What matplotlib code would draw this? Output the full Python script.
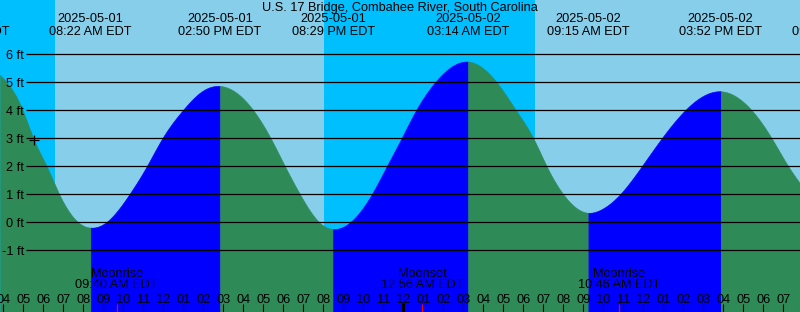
import numpy as np
import pandas as pd
import matplotlib
matplotlib.use("Agg")
import matplotlib.pyplot as plt
from matplotlib.transforms import blended_transform_factory

# ---------------- data ----------------
title = "U.S. 17 Bridge, Combahee River, South Carolina"
base_day = "2025-05-01"
tz_name = "EDT"

# tide height readings: hours after 2025-05-01 00:00, feet
tide_hours = [3.83, 4.165, 4.965, 5.495, 6.165, 6.795, 7.745, 8.367,
              9.13, 10.295, 11.165, 11.945, 12.965, 13.83, 14.833,
              16.495, 17.365, 18.08, 18.83, 19.795, 20.483,
              21.33, 22.415, 23.165, 23.83, 24.63, 25.58, 27.233,
              28.665, 29.63, 30.495, 31.165, 31.995, 33.25,
              33.83, 34.83, 35.915, 36.915, 38.08, 39.867,
              41.415, 42.415, 43.245, 43.83]
tide_feet = [5.26, 5.0, 4.0, 3.0, 2.0, 1.0, 0.0, -0.19,
             0.0, 1.0, 2.0, 3.0, 4.0, 4.63, 4.87,
             4.0, 3.0, 2.0, 1.0, 0.0, -0.24,
             0.0, 1.0, 2.0, 2.9, 4.0, 5.0, 5.74,
             5.0, 4.0, 3.0, 2.0, 1.0, 0.34,
             0.44, 1.0, 2.0, 3.0, 4.0, 4.68,
             4.0, 3.0, 2.0, 1.39]

extreme_times = ["2025-05-01 02:16", "2025-05-01 08:22", "2025-05-01 14:50",
                 "2025-05-01 20:29", "2025-05-02 03:14", "2025-05-02 09:15",
                 "2025-05-02 15:52", "2025-05-02 21:30"]
extreme_kinds = ["High", "Low", "High", "Low", "High", "Low", "High", "Low"]

sunrise_times = ["2025-05-01 06:35", "2025-05-02 06:35"]
sunset_times = ["2025-05-01 20:02", "2025-05-02 20:03"]

moon_times = ["2025-05-01 09:40", "2025-05-02 00:56", "2025-05-02 10:46"]
moon_events = ["Moonrise", "Moonset", "Moonrise"]

mark_hour = 5.545
mark_feet = 2.95

height_levels = [-1, 0, 1, 2, 3, 4, 5, 6]

# ---------------- helpers ----------------
base = pd.Timestamp(base_day)


def to_hours(s):
    return (pd.Timestamp(s) - base).total_seconds() / 3600.0


def smooth_curve(x, y, xn):
    """natural cubic spline through the read points"""
    x = np.asarray(x, float)
    y = np.asarray(y, float)
    n = len(x)
    h = np.diff(x)
    d = np.diff(y) / h
    A = np.zeros((n, n))
    r = np.zeros(n)
    A[0, 0] = 1.0
    A[-1, -1] = 1.0
    for i in range(1, n - 1):
        A[i, i - 1] = h[i - 1]
        A[i, i] = 2 * (h[i - 1] + h[i])
        A[i, i + 1] = h[i]
        r[i] = 6 * (d[i] - d[i - 1])
    M = np.linalg.solve(A, r)
    idx = np.clip(np.searchsorted(x, xn) - 1, 0, n - 2)
    x0, x1 = x[idx], x[idx + 1]
    hh = h[idx]
    return (M[idx] * (x1 - xn) ** 3 / (6 * hh) + M[idx + 1] * (xn - x0) ** 3 / (6 * hh)
            + (y[idx] / hh - M[idx] * hh / 6) * (x1 - xn)
            + (y[idx + 1] / hh - M[idx + 1] * hh / 6) * (xn - x0))


# ---------------- figure ----------------
plt.rcParams['font.family'] = ['Liberation Sans', 'DejaVu Sans']
W, H = 800, 312
fig = plt.figure(figsize=(W / 100, H / 100), dpi=100)
ax = fig.add_axes([0, 0, 1, 1])

T0 = 3.83
T1 = T0 + 40
px_per_ft = 28.0
zero_px = 222.3
y_top = zero_px / px_per_ft
y_bot = -(H - zero_px) / px_per_ft
ax.set_xlim(T0, T1)
ax.set_ylim(y_bot, y_top)
for s in ax.spines.values():
    s.set_visible(False)
ax.set_axisbelow(False)

NIGHT = "#00BFFF"
DAY = "#87CEEB"
FLOOD = "#0000FF"
EBB = "#2E8B57"
FS = 9.2

# day / night background
sr = [to_hours(s) for s in sunrise_times]
ss = [to_hours(s) for s in sunset_times]
edges = sorted([(t, 'rise') for t in sr] + [(t, 'set') for t in ss])
prev = T0 - 10
for t, kind in edges:
    ax.axvspan(prev, t, color=NIGHT if kind == 'rise' else DAY, lw=0, zorder=0)
    prev = t
ax.axvspan(prev, T1 + 10, color=DAY if edges[-1][1] == 'rise' else NIGHT, lw=0, zorder=0)

# tide fill
ext_h = [to_hours(s) for s in extreme_times]
bounds = [T0] + [t for t in ext_h if T0 < t < T1] + [T1]
for a, b in zip(bounds[:-1], bounds[1:]):
    nxt = [k for t, k in zip(ext_h, extreme_kinds) if t >= b - 1e-9][0]
    col = FLOOD if nxt == "High" else EBB
    tt = np.linspace(a, b, 400)
    hh = smooth_curve(tide_hours, tide_feet, tt)
    ax.fill_between(tt, y_bot - 1, hh, color=col, lw=0.4, edgecolor=col, zorder=1)

# height grid lines
ax.hlines(height_levels, T0 + 26 / 20, T1, color='black', lw=0.9, zorder=3)
ax.set_yticks(height_levels)
ax.set_yticklabels([f"{v} ft" for v in height_levels])
ax.tick_params(axis='y', length=0, pad=-17.3, labelsize=FS, labelcolor='black')

# hour ticks
hours = np.arange(int(np.ceil(T0)), int(np.floor(T1)) + 1)
ax.set_xticks(hours)
ax.set_xticklabels([f"{(h % 12) or 12:02d}" for h in hours])
ax.tick_params(axis='x', direction='in', length=5.8, width=0.8, color='black',
               pad=-13.0, labelsize=FS, labelcolor='black')

trans = blended_transform_factory(ax.transData, ax.transAxes)


def yfrac(py):
    return 1 - py / H


# midnight marker
for h in hours:
    if h % 24 == 0:
        ax.vlines(h, 0, yfrac(303), transform=trans, color='black', lw=2.2, zorder=4)

# moon events
for s, name in zip(moon_times, moon_events):
    t = to_hours(s)
    ts = pd.Timestamp(s)
    ax.vlines(t, 0, yfrac(304), transform=trans, color='red', lw=0.9, zorder=4)
    ax.text(t, yfrac(274), name, transform=trans, ha='center', va='center', fontsize=FS, zorder=5)
    ax.text(t, yfrac(285.5), ts.strftime("%I:%M %p") + " " + tz_name, transform=trans,
            ha='center', va='center', fontsize=FS, zorder=5)

# extreme labels
for s in extreme_times:
    t = to_hours(s)
    ts = pd.Timestamp(s)
    ax.text(t, yfrac(19.5), ts.strftime("%Y-%m-%d"), transform=trans, ha='center', va='center',
            fontsize=FS, zorder=5)
    ax.text(t, yfrac(31.7), ts.strftime("%I:%M %p") + " " + tz_name, transform=trans,
            ha='center', va='center', fontsize=FS, zorder=5)

# mark
ax.plot([mark_hour], [mark_feet], marker='+', color='black', ms=7, mew=0.9, zorder=6)

# title
ax.text(0.5, yfrac(7.5), title, transform=ax.transAxes, ha='center', va='center', fontsize=FS, zorder=5)

fig.savefig("out.png", dpi=100)
